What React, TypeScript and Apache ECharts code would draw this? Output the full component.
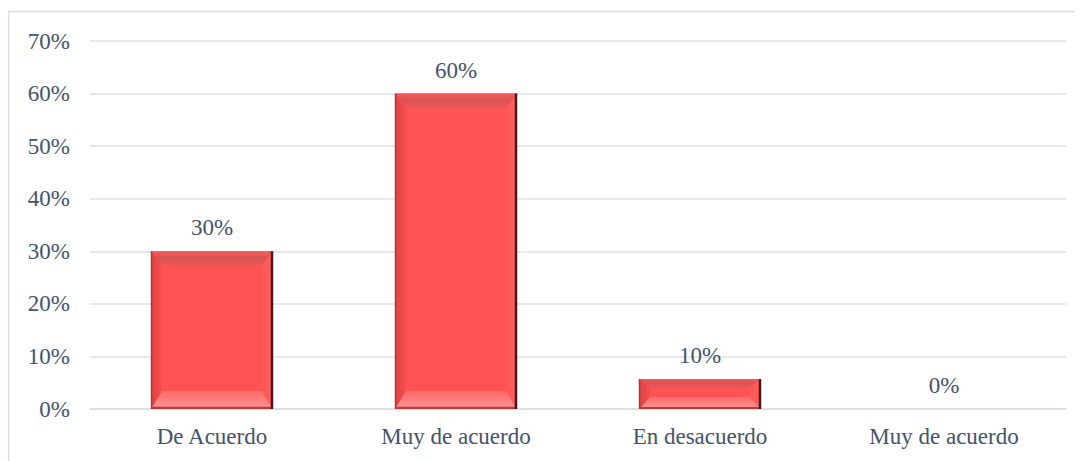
import React, { useEffect, useRef } from "react";
import * as echarts from "echarts";

const categories = ["De Acuerdo", "Muy de acuerdo", "En desacuerdo", "Muy de acuerdo"];
const barValues = [30, 60, 5.7, 0];
const barLabels = ["30%", "60%", "10%", "0%"];
const yTicks = [0, 10, 20, 30, 40, 50, 60, 70];

const TEXT = "#44546A";
const FONT = "Liberation Serif";

export default function App() {
  const ref = useRef<HTMLDivElement>(null);
  useEffect(() => {
    if (!ref.current) return;
    const chart = echarts.init(ref.current, undefined, { renderer: "svg" });
    chart.setOption({
      animation: false,
      backgroundColor: "#ffffff",
      textStyle: { fontFamily: FONT },
      graphic: [
        {
          type: "rect",
          shape: { x: 0.5, y: 3.5, width: 1200, height: 600 },
          style: { fill: "none", stroke: "#D9DDE3", lineWidth: 1.5 },
          silent: true,
          z: 0,
        },
      ],
      grid: { left: 82, right: 17, top: 33, bottom: 52, containLabel: false },
      xAxis: {
        type: "category",
        data: categories,
        axisTick: { show: false },
        axisLine: { show: true, lineStyle: { color: "#D9DDE3", width: 1.5 } },
        axisLabel: { color: TEXT, fontFamily: FONT, fontSize: 23, margin: 16 },
      },
      yAxis: {
        type: "value",
        min: yTicks[0],
        max: yTicks[yTicks.length - 1],
        interval: 10,
        axisLine: { show: false },
        axisTick: { show: false },
        splitLine: { lineStyle: { color: "#DDE1E7", width: 1.5 } },
        axisLabel: {
          color: TEXT,
          fontFamily: FONT,
          fontSize: 23,
          margin: 20,
          formatter: (v: number) => v + "%",
        },
      },
      series: [
        {
          type: "bar",
          data: barValues,
          barWidth: "50%",
          itemStyle: { color: "#FF5252" },
          label: {
            show: true,
            position: "top",
            distance: 12,
            color: TEXT,
            fontFamily: FONT,
            fontSize: 23,
            formatter: (p: any) => barLabels[p.dataIndex],
          },
          z: 2,
        },
        {
          type: "custom",
          data: barValues.map((v, i) => [i, v]),
          encode: { x: 0, y: 1 },
          z: 3,
          silent: true,
          renderItem: (params: any, api: any) => {
            const idx = api.value(0);
            const v = api.value(1);
            const top = api.coord([idx, v]);
            const bot = api.coord([idx, 0]);
            const w = api.size([1, 0])[0] * 0.5;
            const x0 = top[0] - w / 2;
            const x1 = top[0] + w / 2;
            const y0 = top[1];
            const y1 = bot[1];
            const h = y1 - y0;
            if (h <= 0.5) return { type: "group", children: [] };
            const bt = Math.min(14, h * 0.28);
            const bb = Math.min(18, h * 0.4);
            const bs = 11;
            const xi0 = x0 + bs;
            const xi1 = x1 - bs;
            const yi0 = y0 + bt;
            const yi1 = y1 - bb;
            return {
              type: "group",
              children: [
                {
                  type: "polygon",
                  shape: { points: [[x0, y0], [x1, y0], [xi1, yi0], [xi0, yi0]] },
                  style: {
                    fill: new echarts.graphic.LinearGradient(0, 0, 0, 1, [
                      { offset: 0, color: "#FF5656" },
                      { offset: 0.4, color: "#D85656" },
                      { offset: 1, color: "#EC5454" },
                    ]),
                  },
                },
                {
                  type: "polygon",
                  shape: { points: [[x0, y1], [x1, y1], [xi1, yi1], [xi0, yi1]] },
                  style: {
                    fill: new echarts.graphic.LinearGradient(0, 0, 0, 1, [
                      { offset: 0, color: "#FF6A6A" },
                      { offset: 0.8, color: "#FF8C8C" },
                      { offset: 1, color: "#E05050" },
                    ]),
                  },
                },
                {
                  type: "polygon",
                  shape: { points: [[x0, y0], [xi0, yi0], [xi0, yi1], [x0, y1]] },
                  style: {
                    fill: new echarts.graphic.LinearGradient(0, 0, 1, 0, [
                      { offset: 0, color: "#DA4242" },
                      { offset: 1, color: "#F84E4E" },
                    ]),
                  },
                },
                {
                  type: "polygon",
                  shape: { points: [[x1, y0], [xi1, yi0], [xi1, yi1], [x1, y1]] },
                  style: {
                    fill: new echarts.graphic.LinearGradient(0, 0, 1, 0, [
                      { offset: 0, color: "#FF5656" },
                      { offset: 1, color: "#FF6060" },
                    ]),
                  },
                },
                {
                  type: "line",
                  shape: { x1: x0 + 0.5, y1: y0, x2: x0 + 0.5, y2: y1 },
                  style: { stroke: "#B83535", lineWidth: 1.5 },
                },
                {
                  type: "line",
                  shape: { x1: x0, y1: y1 - 1, x2: x1, y2: y1 - 1 },
                  style: { stroke: "#B83A3A", lineWidth: 2 },
                },
                {
                  type: "line",
                  shape: { x1: x1 - 1, y1: y0, x2: x1 - 1, y2: y1 },
                  style: { stroke: "#4A1818", lineWidth: 2.5 },
                },
              ],
            };
          },
        },
      ],
    });
    return () => chart.dispose();
  }, []);
  return <div ref={ref} style={{ width: 1075, height: 453 }} />;
}
